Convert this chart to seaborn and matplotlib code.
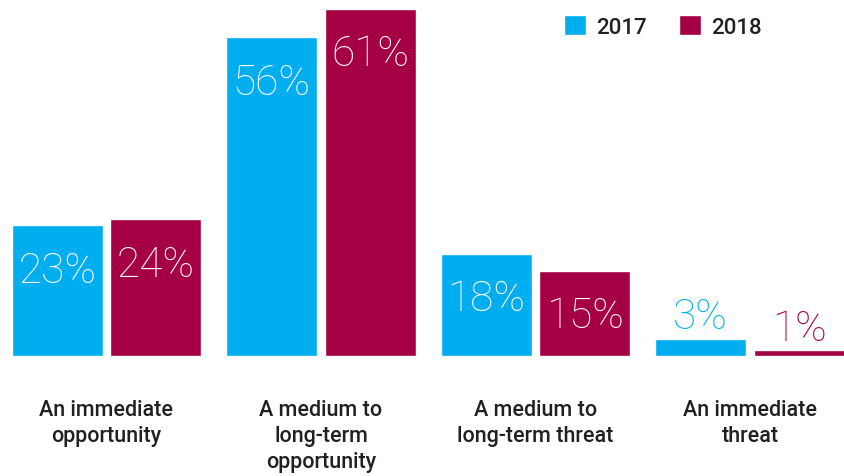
import matplotlib
matplotlib.use("Agg")
import matplotlib.pyplot as plt
import seaborn as sns
import pandas as pd

categories = ["An immediate\nopportunity", "A medium to\nlong-term\nopportunity",
              "A medium to\nlong-term threat", "An immediate\nthreat"]
years = ["2017", "2018"]
values_2017 = [23, 56, 18, 3]
values_2018 = [24, 61, 15, 1]

colors = {"2017": "#00AEEF", "2018": "#A50044"}
text_dark = "#231F20"

df = pd.DataFrame({
    "category": categories * 2,
    "year": ["2017"] * 4 + ["2018"] * 4,
    "value": values_2017 + values_2018,
})

sns.set_theme(style="white")
plt.rcParams["font.family"] = ["Roboto", "DejaVu Sans"]

W, H = 845, 477
fig = plt.figure(figsize=(W / 100, H / 100), dpi=100)
ax = fig.add_axes([0, 120 / H, 1, 357 / H])

sns.barplot(data=df, x="category", y="value", hue="year", order=categories,
            hue_order=years, palette=colors, width=0.918, gap=0.08,
            saturation=1, ax=ax, legend=False)

ppu = 214.5
ax.set_xlim(-106.5 / ppu, (W - 106.5) / ppu)
ax.set_ylim(0, 357 / 5.689)
ax.axis("off")

for container, yr in zip(ax.containers, years):
    for bar in container:
        v = bar.get_height()
        cx = bar.get_x() + bar.get_width() / 2
        if v >= 10:
            ax.annotate(f"{v:.0f}%", (cx, v), xytext=(0, -45), textcoords="offset pixels",
                        ha="center", va="center", color="white", fontsize=30.5,
                        fontweight="light")
        else:
            ax.annotate(f"{v:.0f}%", (cx, v), xytext=(0, 22), textcoords="offset pixels",
                        ha="center", va="center", color=colors[yr], fontsize=30.5,
                        fontweight="light")

for i, cat in enumerate(categories):
    ax.annotate(cat, (i, 0), xytext=(0, -43), textcoords="offset pixels",
                ha="center", va="top", fontsize=15.5, fontweight="medium",
                color=text_dark, linespacing=1.3, annotation_clip=False)

from matplotlib.patches import Patch
handles = [Patch(facecolor=colors[y], label=y) for y in years]
fig.legend(handles=handles, loc="upper left", bbox_to_anchor=(564 / W, 1 - 16 / H),
           ncol=2, frameon=False, handlelength=1.0, handleheight=1.0,
           handletextpad=0.45, columnspacing=1.45, prop={"size": 16, "weight": "medium"},
           labelcolor=text_dark, borderaxespad=0, borderpad=0)

fig.savefig("out.png", dpi=100)
